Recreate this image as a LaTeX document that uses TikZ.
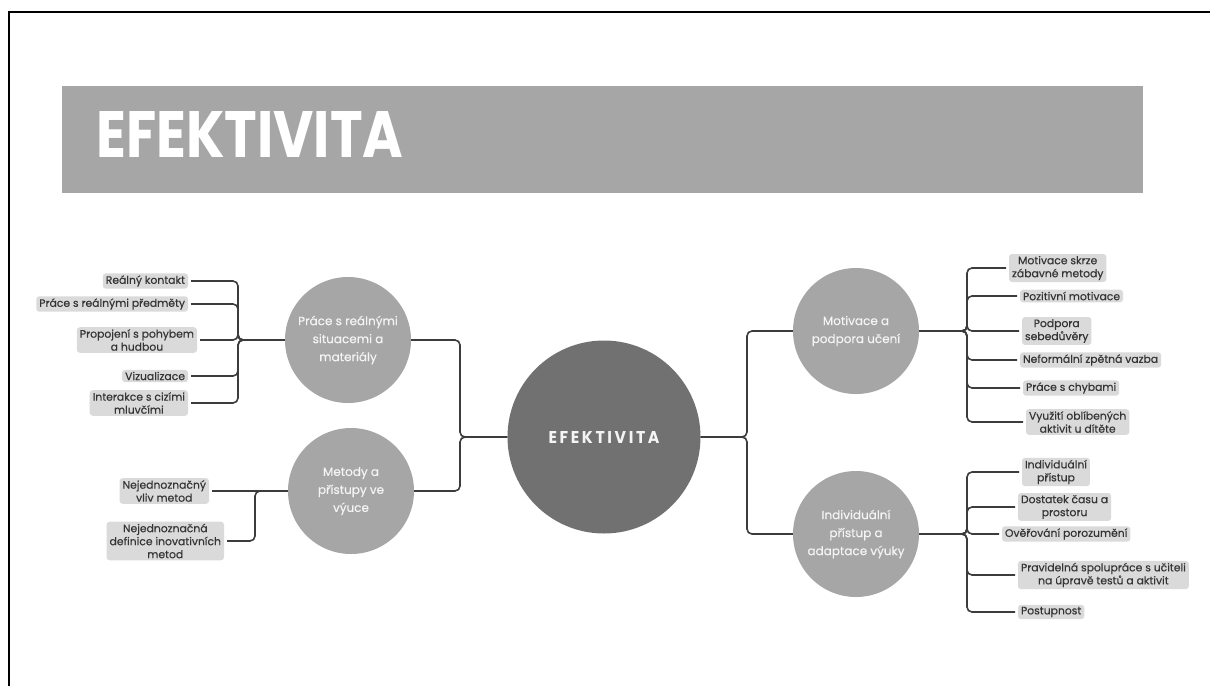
\documentclass[tikz,border=0pt]{standalone}
\usepackage{fontspec}
\setmainfont{Poppins}
\newfontfamily\leaffont{Poppins}[FakeBold=0.35]

\definecolor{bar}{HTML}{A6A6A6}
\definecolor{hubgray}{HTML}{717171}
\definecolor{circtext}{HTML}{F4F4F4}
\definecolor{leafgray}{HTML}{DADADA}
\definecolor{leaftext}{HTML}{343434}
\definecolor{linkgray}{HTML}{3C3C3C}

\tikzset{
  topic/.style={circle, fill=bar, minimum size=126, inner sep=0, text=circtext,
    font=\leaffont\fontsize{12}{18}\selectfont, align=center},
  hub/.style={circle, fill=hubgray, minimum size=193, inner sep=0, text=circtext},
  leaf/.style={fill=leafgray, rounded corners=3, inner xsep=3, inner ysep=2,
    text=leaftext, font=\leaffont\fontsize{10.8}{13}\selectfont, align=center, outer xsep=3},
  link/.style={draw=linkgray, line width=1.6, rounded corners=5},
  frame/.style={draw=black, line width=2.2}
}

\begin{document}
\begin{tikzpicture}[x=1pt, y=-1pt]
  \useasboundingbox (0,0) rectangle (1210,686);

  % page frame and title bar
  \draw[frame] (9,686) -- (9,12) -- (1210,12);
  \fill[bar] (62,86) rectangle (1143,193);
  \node[anchor=south west, inner sep=0, text=white] (title) at (96,158)
    {\resizebox{307pt}{46pt}{\bfseries EFEKTIVITA}};

  % central hub and topics
  \node[hub] (c) at (604,437) {\resizebox{111pt}{12pt}{\bfseries E\,F\,E\,K\,T\,I\,V\,I\,T\,A}};
  \node[topic] (p)  at (348,340) {Práce s reálnými\\situacemi a\\materiály};
  \node[topic] (m)  at (351,491) {Metody a\\přístupy ve\\výuce};
  \node[topic] (mo) at (856,331) {Motivace a\\podpora učení};
  \node[topic] (ia) at (856,534) {Individuální\\přístup a\\adaptace výuky};

  % left leaves
  \node[leaf, anchor=east] (l1) at (191,281) {Reálný kontakt};
  \node[leaf, anchor=east] (l2) at (191,304) {Práce s reálnými předměty};
  \node[leaf, anchor=east] (l3) at (200,340) {Propojení s pohybem\\a hudbou};
  \node[leaf, anchor=east] (l4) at (191,376) {Vizualizace};
  \node[leaf, anchor=east] (l5) at (191,403) {Interakce s cizími\\mluvčími};
  \node[leaf, anchor=east] (l6) at (212,491) {Nejednoznačný\\vliv metod};
  \node[leaf, anchor=east] (l7) at (227,541) {Nejednoznačná\\definice inovativních\\metod};

  % right leaves
  \node[leaf, anchor=west] (r1) at (1006,268) {Motivace skrze\\zábavné metody};
  \node[leaf, anchor=west] (r2) at (1017,296) {Pozitivní motivace};
  \node[leaf, anchor=west] (r3) at (1019,331) {Podpora\\sebedůvěry};
  \node[leaf, anchor=west] (r4) at (1017,360) {Neformální zpětná vazba};
  \node[leaf, anchor=west] (r5) at (1020,388) {Práce s chybami};
  \node[leaf, anchor=west] (r6) at (1023,422) {Využití oblíbených\\aktivit u dítěte};
  \node[leaf, anchor=west] (r7) at (1019,472) {Individuální\\přístup};
  \node[leaf, anchor=west] (r8) at (1015,507) {Dostatek času a\\prostoru};
  \node[leaf, anchor=west] (r9) at (999,534) {Ověřování porozumění};
  \node[leaf, anchor=west] (r10) at (1015,575) {Pravidelná spolupráce s učiteli\\na úpravě testů a aktivit};
  \node[leaf, anchor=west] (r11) at (1015,612) {Postupnost};

  % hub to topics
  \foreach \t in {p,m} \draw[link] (c.west) -- (460,437) |- (\t.east);
  \foreach \t in {mo,ia} \draw[link] (c.east) -- (747,437) |- (\t.west);

  % topics to leaves
  \foreach \l in {l1,l2,l3,l4,l5} \draw[link] (p.west) -- (238,340) |- (\l.east);
  \draw[link] (m.west) -- (l6.east);
  \draw[link] (m.west) -- (255,491) |- (l7.east);
  \foreach \l in {r1,r2,r3,r4,r5,r6} \draw[link] (mo.east) -- (967,331) |- (\l.west);
  \foreach \l in {r7,r8,r9,r10,r11} \draw[link] (ia.east) -- (967,534) |- (\l.west);
\end{tikzpicture}
\end{document}
